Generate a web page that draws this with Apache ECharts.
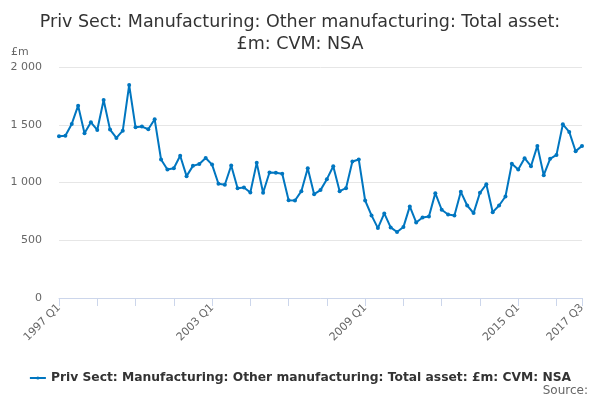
<!DOCTYPE html>
<html lang="en">
<head>
    <meta charset="UTF-8">
    <title>Other manufacturing total asset</title>
    <script type="text/javascript" src="https://cdn.jsdelivr.net/npm/echarts@6/dist/echarts.min.js"></script>
</head>
<body style="margin:0">
<div id="main" style="width:600px;height:400px;"></div>
<script type="text/javascript">
    // quarters 1997 Q1 .. 2017 Q3
    var quarters = [];
    for (var yr = 1997; yr <= 2017; yr++) {
        for (var q = 1; q <= 4; q++) {
            if (yr === 2017 && q > 3) break;
            quarters.push(yr + ' Q' + q);
        }
    }

    var seriesName = 'Priv Sect: Manufacturing: Other manufacturing: Total asset: £m: CVM: NSA';

    var values = [
        1400, 1405, 1507, 1665, 1426, 1521, 1455, 1714, 1458, 1386, 1449, 1844,
        1478, 1484, 1461, 1547, 1199, 1112, 1124, 1231, 1055, 1144, 1160, 1212,
        1155, 989, 980, 1147, 951, 957, 914, 1170, 911, 1086, 1084, 1075,
        847, 844, 925, 1124, 899, 934, 1029, 1141, 925, 951, 1182, 1199,
        844, 715, 605, 732, 611, 571, 614, 793, 654, 697, 706, 908,
        764, 723, 715, 919, 801, 735, 911, 985, 743, 801, 879, 1162,
        1112, 1210, 1141, 1317, 1063, 1205, 1239, 1504, 1438, 1271, 1317
    ];

    var yTicks = [0, 500, 1000, 1500, 2000];

    var lastIdx = quarters.length - 1;
    var myChart = echarts.init(document.getElementById('main'));

    var option = {
        textStyle: {fontFamily: 'DejaVu Sans'},
        title: [{
            text: 'Priv Sect: Manufacturing: Other manufacturing: Total asset:\n£m: CVM: NSA',
            left: 'center',
            top: 6,
            textStyle: {fontSize: 17.5, fontWeight: 'normal', color: '#333333', lineHeight: 22, fontFamily: 'DejaVu Sans'}
        }, {
            text: '£m',
            left: 6,
            top: 42,
            textStyle: {fontSize: 11, fontWeight: 'normal', color: '#666666', fontFamily: 'DejaVu Sans'}
        }, {
            text: 'Source:',
            right: 7,
            top: 380,
            textStyle: {fontSize: 12, fontWeight: 'normal', color: '#666666', fontFamily: 'DejaVu Sans'}
        }],
        legend: {
            data: [seriesName],
            top: 367,
            left: 'center',
            itemWidth: 16,
            itemHeight: 4,
            itemGap: 5,
            textStyle: {fontSize: 12.3, fontWeight: 'bold', color: '#333333', fontFamily: 'DejaVu Sans'}
        },
        grid: {left: 59, right: 18, top: 67, bottom: 102},
        xAxis: {
            type: 'category',
            data: quarters,
            boundaryGap: false,
            axisLine: {lineStyle: {color: '#ccd6eb'}},
            axisTick: {
                length: 8,
                lineStyle: {color: '#ccd6eb'},
                interval: function (i) { return i % 6 === 0 || i === lastIdx; }
            },
            axisLabel: {
                rotate: 45,
                color: '#666666',
                fontSize: 11,
                margin: 8,
                interval: function (i) { return i % 24 === 0 || i === lastIdx; }
            }
        },
        yAxis: {
            type: 'value',
            min: yTicks[0],
            max: yTicks[yTicks.length - 1],
            interval: 500,
            axisLine: {show: false},
            axisTick: {show: false},
            splitLine: {lineStyle: {color: '#e6e6e6'}},
            axisLabel: {
                color: '#666666',
                fontSize: 11,
                margin: 17,
                formatter: function (v) {
                    return String(v).replace(/\B(?=(\d{3})+(?!\d))/g, ' ');
                }
            }
        },
        series: [{
            name: seriesName,
            type: 'line',
            data: values,
            color: '#0076c0',
            symbol: 'circle',
            symbolSize: 4,
            lineStyle: {width: 2},
            animation: false
        }]
    };

    myChart.setOption(option);
</script>
</body>
</html>
